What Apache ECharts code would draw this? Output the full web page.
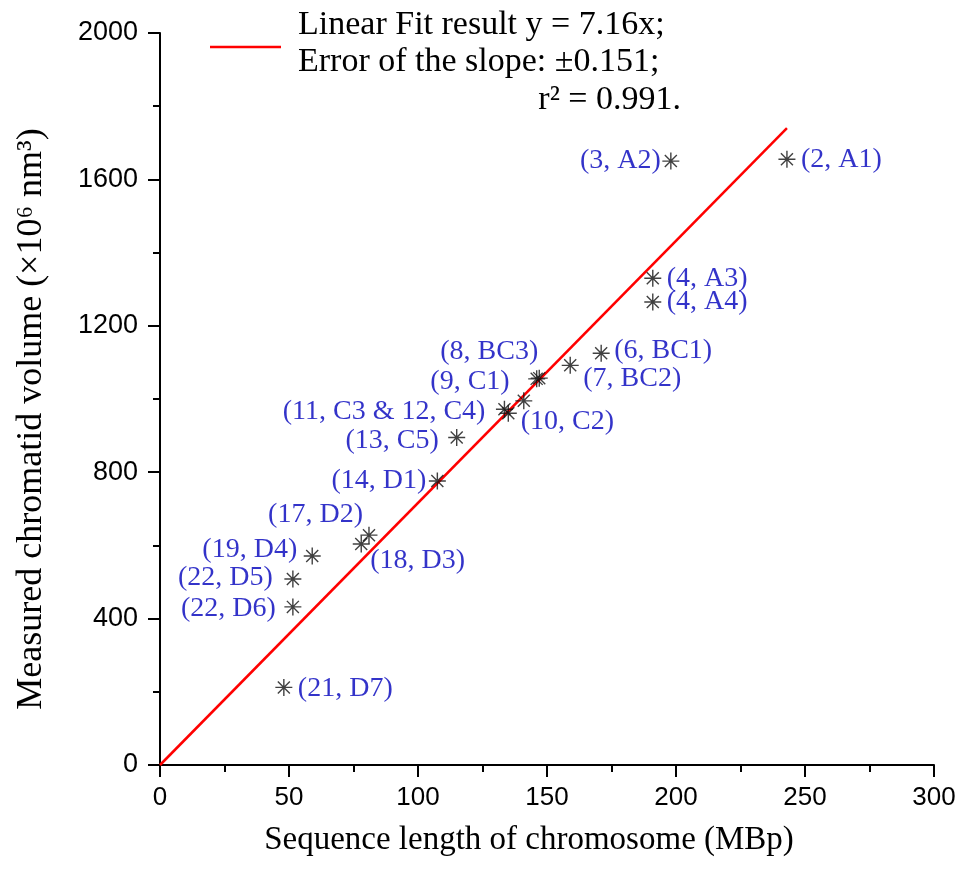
<!DOCTYPE html>
<html>
<head>
<meta charset="utf-8">
<script src="https://cdn.jsdelivr.net/npm/echarts@6/dist/echarts.min.js"></script>
<style>html,body{margin:0;padding:0;background:#fff}#c{width:959px;height:887px}</style>
</head>
<body>
<div id="c"></div>
<script>
// chromosome labels (number, name)
var pointLabels = ["(2, A1)","(3, A2)","(4, A3)","(4, A4)","(6, BC1)","(7, BC2)","(8, BC3)","(9, C1)","(10, C2)","(11, C3 & 12, C4)","","(13, C5)","(14, D1)","(17, D2)","(18, D3)","(19, D4)","(22, D5)","(22, D6)","(21, D7)"];
// sequence length (MBp)
var seqLength = [243, 198, 191, 191, 171, 159, 147, 146, 141, 133.5, 135, 115, 107.5, 81, 78, 59, 51.5, 51.5, 48];
// measured chromatid volume (x10^6 nm^3)
var volume = [1655, 1650, 1330, 1265, 1125, 1092, 1057, 1055, 995, 972, 961, 895, 776, 628, 604, 571, 508, 432, 212];
// linear fit line endpoints
var fitX = [0, 243];
var fitY = [0, 1740];
// axis ticks
var xTicks = [0, 50, 100, 150, 200, 250, 300];
var yTicks = [0, 400, 800, 1200, 1600, 2000];

// label placement (style only)
var labelLayout = [
  ['right',[-1,0]],['left',[5,0]],['right',[-1,0]],['right',[-1,0]],['right',[-2,-3]],
  ['right',[-2,13]],['left',[14,-26]],['left',[-12,3]],['right',[-18,21]],['left',[-4,2]],
  ['right',[0,0]],['left',[-3,3]],['left',[4,0]],['left',[9,-21]],['right',[-6,17]],
  ['left',[0,-6]],['left',[-5,-1]],['left',[-2,2]],['right',[-1,1]]
];

var star = 'path://M0,-10L0,10M-10,0L10,0M-7.07,-7.07L7.07,7.07M-7.07,7.07L7.07,-7.07';

var pts = seqLength.map(function(x, i){
  return {
    value: [x, volume[i]],
    label: {show: pointLabels[i] !== '', formatter: pointLabels[i], position: labelLayout[i][0], offset: labelLayout[i][1]}
  };
});

var chart = echarts.init(document.getElementById('c'));
var serif = '"Liberation Serif","Times New Roman",serif';
var sans = '"Liberation Sans",Arial,sans-serif';
chart.setOption({
  animation: false,
  backgroundColor: '#fff',
  grid: {left: 160, right: 25, top: 33, bottom: 122},
  xAxis: {
    type: 'value', min: xTicks[0], max: xTicks[xTicks.length-1], interval: 50,
    name: 'Sequence length of chromosome (MBp)', nameLocation: 'middle', nameGap: 59,
    nameTextStyle: {fontFamily: serif, fontSize: 33, color: '#000', padding: [0, 36, 0, 0]},
    axisLine: {show: true, lineStyle: {color: '#000', width: 2}},
    axisTick: {show: true, inside: false, length: 12, lineStyle: {color: '#000', width: 2}},
    minorTick: {show: true, splitNumber: 2, length: 7, lineStyle: {color: '#000', width: 2}},
    axisLabel: {fontFamily: sans, fontSize: 26, color: '#000', margin: 20, formatter: function(v){ return String(v); }},
    splitLine: {show: false}
  },
  yAxis: {
    type: 'value', min: yTicks[0], max: yTicks[yTicks.length-1], interval: 400,
    name: 'Measured chromatid volume (×10⁶ nm³)', nameLocation: 'middle', nameGap: 110,
    nameTextStyle: {fontFamily: serif, fontSize: 36, color: '#000', padding: [0, 40, 0, 0]},
    axisLine: {show: true, lineStyle: {color: '#000', width: 2}},
    axisTick: {show: true, inside: false, length: 12, lineStyle: {color: '#000', width: 2}},
    minorTick: {show: true, splitNumber: 2, length: 7, lineStyle: {color: '#000', width: 2}},
    axisLabel: {fontFamily: sans, fontSize: 27, color: '#000', margin: 22, formatter: function(v){ return String(v); }},
    splitLine: {show: false}
  },
  series: [
    {
      type: 'line', data: fitX.map(function(x, i){ return [x, fitY[i]]; }),
      showSymbol: false, lineStyle: {color: '#ff0000', width: 2.5}, z: 2, silent: true
    },
    {
      type: 'scatter', data: pts, symbol: star, symbolSize: 17,
      itemStyle: {color: 'none', borderColor: '#111', borderWidth: 1.4},
      label: {color: '#0000bb', fontFamily: serif, fontSize: 28, distance: 4},
      z: 3
    }
  ],
  graphic: [
    {type: 'line', shape: {x1: 210, y1: 47, x2: 281, y2: 47}, style: {stroke: '#ff0000', lineWidth: 2.5}},
    {type: 'text', x: 298, y: 25, style: {text: 'Linear Fit result y = 7.16x;', font: '34px ' + serif, fill: '#000', verticalAlign: 'middle', align: 'left'}},
    {type: 'text', x: 298, y: 62, style: {text: 'Error of the slope: ±0.151;', font: '34px ' + serif, fill: '#000', verticalAlign: 'middle', align: 'left'}},
    {type: 'text', x: 681, y: 100, style: {text: 'r² = 0.991.', font: '34px ' + serif, fill: '#000', verticalAlign: 'middle', align: 'right'}}
  ]
});
</script>
</body>
</html>
